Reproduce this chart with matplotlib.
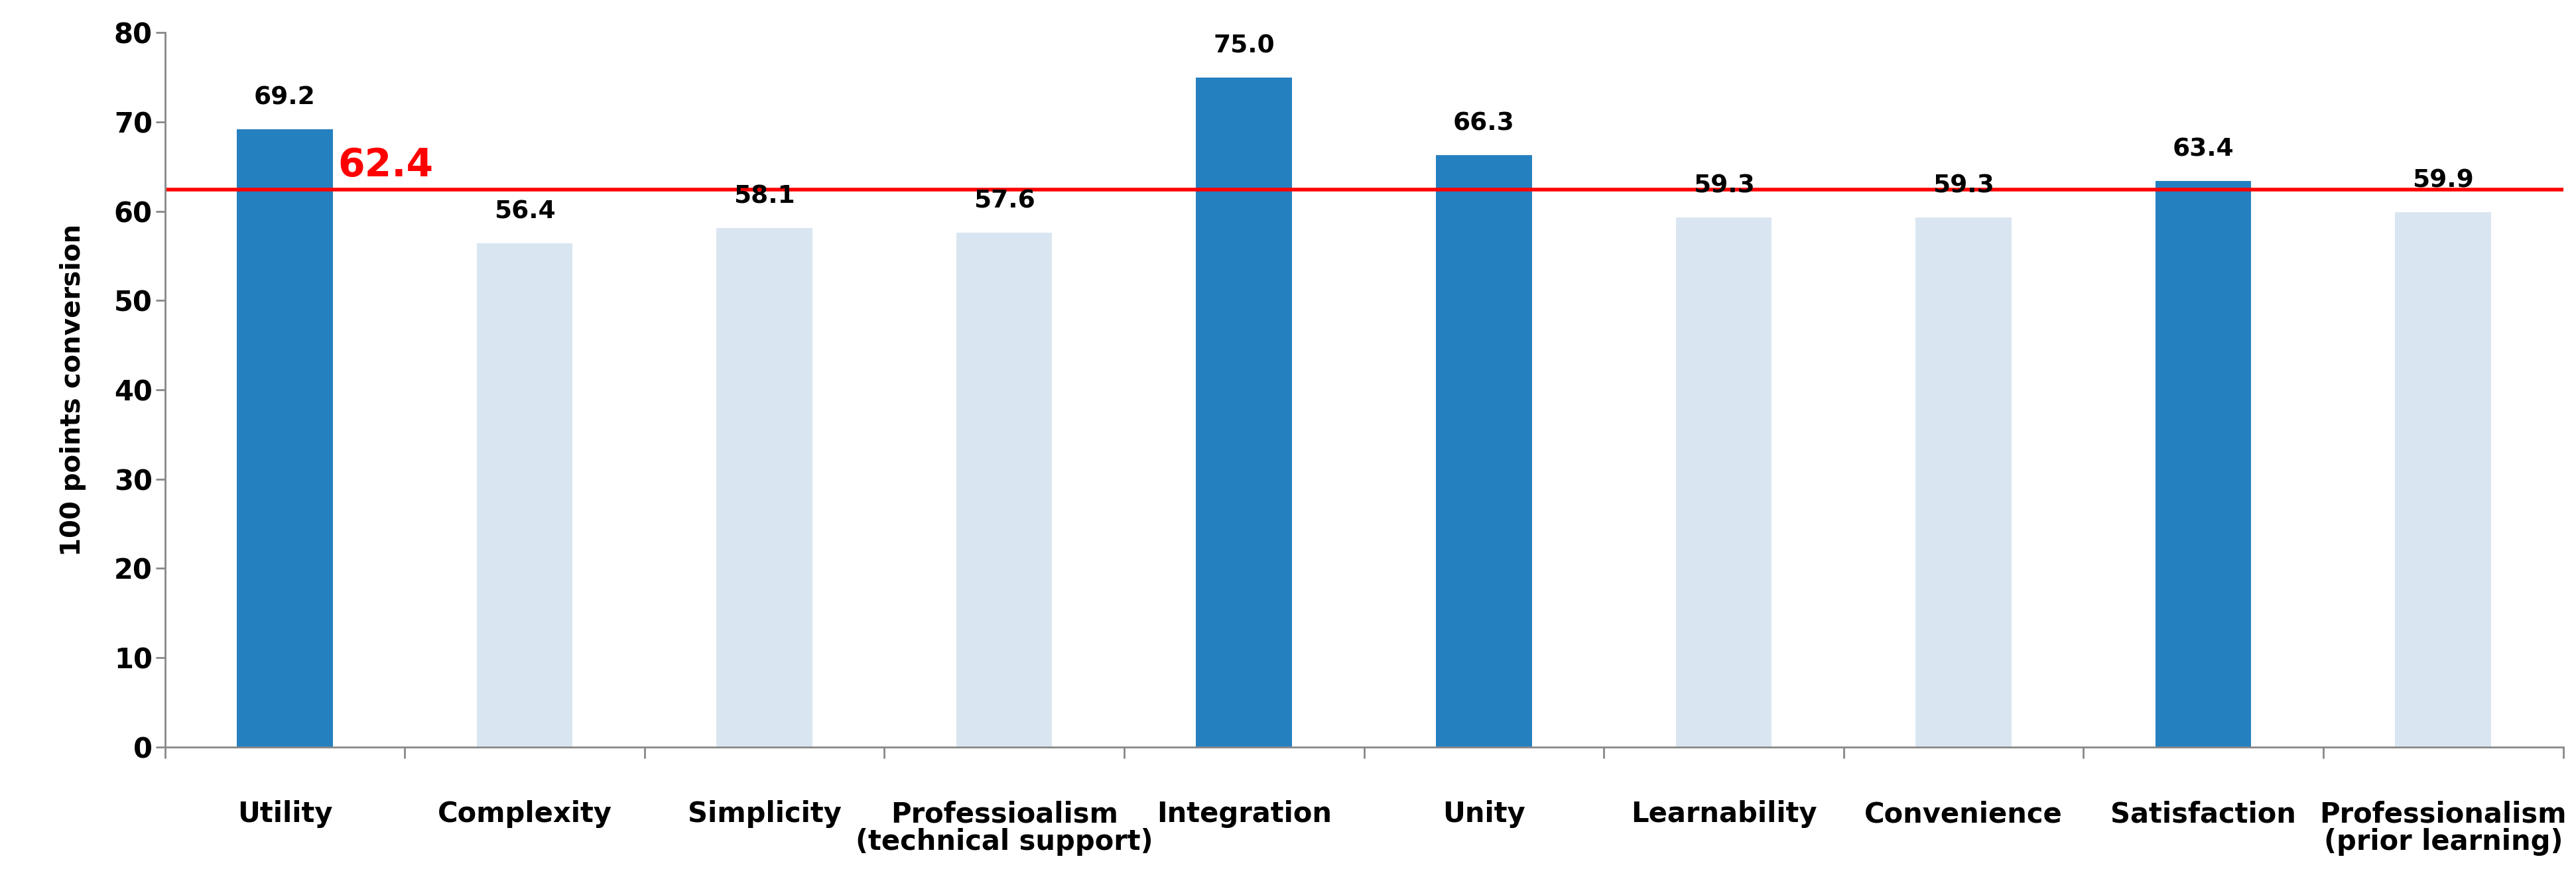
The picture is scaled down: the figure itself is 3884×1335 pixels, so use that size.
import matplotlib.pyplot as plt
import numpy as np

categories = ['Utility', 'Complexity', 'Simplicity', 'Professioalism\n(technical support)',
              'Integration', 'Unity', 'Learnability', 'Convenience', 'Satisfaction',
              'Professionalism\n(prior learning)']
values = [69.2, 56.4, 58.1, 57.6, 75.0, 66.3, 59.3, 59.3, 63.4, 59.9]
mean_value = 62.4

dark = '#2580C0'
light = '#D9E6F2'
colors = [dark if v > mean_value else light for v in values]

fig = plt.figure(figsize=(38.84, 13.35), dpi=100)
ax = fig.add_axes([0.064, 0.156, 0.931, 0.807])

x = np.arange(len(categories))
ax.bar(x, values, width=0.4, color=colors)
for xi, v in zip(x, values):
    ax.text(xi, v + 2.2, f'{v:.1f}', ha='center', va='bottom', fontsize=27, fontweight='bold')

ax.axhline(mean_value, color='red', linewidth=4)
ax.text(0.22, mean_value + 0.6, f'{mean_value}', color='red', fontsize=42, fontweight='bold',
        ha='left', va='bottom')

ax.set_xlim(-0.5, len(categories) - 0.5)
ax.set_ylim(0, 80)
ax.set_yticks(range(0, 81, 10))
ax.set_xticks(x)
ax.set_xticklabels(categories, fontsize=30, fontweight='bold', linespacing=1.0)
ax.set_xticks(np.arange(-0.5, len(categories), 1), minor=True)
ax.tick_params(axis='x', which='major', length=0, pad=58)
ax.tick_params(axis='x', which='minor', length=12, width=2, color='#888888')
ax.tick_params(axis='y', labelsize=30, length=10, width=2, color='#888888')
for lbl in ax.get_yticklabels():
    lbl.set_fontweight('bold')
ax.set_ylabel('100 points conversion', fontsize=29, fontweight='bold', labelpad=30)

ax.spines['top'].set_visible(False)
ax.spines['right'].set_visible(False)
ax.spines['left'].set_color('#888888')
ax.spines['bottom'].set_color('#888888')
ax.spines['left'].set_linewidth(2)
ax.spines['bottom'].set_linewidth(2)

plt.savefig('out.png', dpi=100)
plt.close()
